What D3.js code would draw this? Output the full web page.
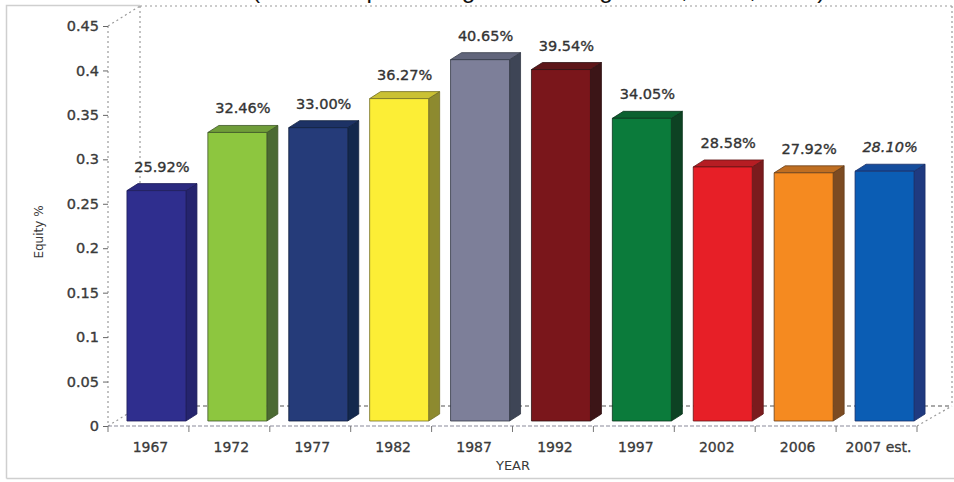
<!DOCTYPE html>
<html>
<head>
<meta charset="utf-8">
<script src="https://cdn.jsdelivr.net/npm/d3@7"></script>
<style>
  html, body { margin: 0; padding: 0; background: #fff; overflow: hidden; }
  svg { display: block; }
</style>
</head>
<body>
<svg id="chart" width="954" height="482"></svg>
<script>
// ---- data ----
const years = ["1967", "1972", "1977", "1982", "1987", "1992", "1997", "2002", "2006", "2007 est."];
const equityShare = [0.2592, 0.3246, 0.3300, 0.3627, 0.4065, 0.3954, 0.3405, 0.2858, 0.2792, 0.2810];
const estimated = [false, false, false, false, false, false, false, false, false, true];
const yTicks = [0, 0.05, 0.1, 0.15, 0.2, 0.25, 0.3, 0.35, 0.4, 0.45];
const yTickLabels = ["0", "0.05", "0.1", "0.15", "0.2", "0.25", "0.3", "0.35", "0.4", "0.45"];
const titleText = "(held as a percentage of Housing Stock, 1967, 2007)";

// ---- palette (front face, side face) ----
const frontColors = ["#2f2e8e", "#8dc63f", "#253b79", "#fcee36", "#7d7f99", "#7a161b", "#0b7b3b", "#e71f27", "#f58a20", "#0b5db4"];
const sideColors  = ["#25246e", "#4b6a32", "#13284d", "#8d8a2f", "#3e4556", "#3c1517", "#0d4223", "#7b1b1d", "#7c4b22", "#1f3a80"];

const svg = d3.select("#chart");
const fmtPct = d3.format(".2%");
const labelFont = "DejaVu Sans, Verdana, sans-serif";

// plot geometry
const floorY = 426, topY = 26, left = 108, right = 917;
const depthX = 32, depthY = -20;          // depth of the back wall
const barShiftX = 8, barShiftY = -5;      // bars sit slightly inside the floor
const barDepthX = 11, barDepthY = -7;     // thickness of each bar

const y = d3.scaleLinear().domain([0, 0.45]).range([floorY, topY]);
const x = d3.scaleBand().domain(years).range([left, right]);
const barW = 59;

// outer frame
const frame = svg.append("g").attr("stroke", "#cfcfcf").attr("stroke-width", 1.5).attr("fill", "none");
frame.append("path").attr("d", `M6.5,478.5 L6.5,5.5 L${left + depthX},5.5`);
frame.append("path").attr("d", `M6.5,478.5 L954,478.5`);

// title, running off the top edge so only its descenders show
svg.append("text")
  .attr("x", 252).attr("y", -2)
  .attr("font-family", "Liberation Sans, Arial, sans-serif")
  .attr("font-size", 24.5)
  .attr("fill", "#111")
  .text(titleText);

// back wall and floor wireframe
const wire = svg.append("g").attr("fill", "none").attr("stroke", "#9a9a9a").attr("stroke-width", 1.2).attr("stroke-dasharray", "2,3");
const bx0 = left + depthX, bx1 = right + depthX, byFloor = floorY + depthY;
wire.append("line").attr("x1", bx0).attr("y1", 6).attr("x2", 954).attr("y2", 6);
wire.append("line").attr("x1", bx0).attr("y1", 6).attr("x2", bx0).attr("y2", byFloor);
wire.append("line").attr("x1", bx1 + 3).attr("y1", 6).attr("x2", bx1 + 3).attr("y2", byFloor);
wire.append("line").attr("x1", left).attr("y1", topY).attr("x2", bx0).attr("y2", 6);
wire.append("line").attr("x1", left).attr("y1", floorY).attr("x2", bx0).attr("y2", byFloor);
wire.append("line").attr("x1", right).attr("y1", floorY).attr("x2", bx1 + 3).attr("y2", byFloor);
wire.append("line").attr("x1", left).attr("y1", topY).attr("x2", left).attr("y2", floorY);
// back floor line
svg.append("line").attr("x1", bx0).attr("y1", byFloor).attr("x2", bx1).attr("y2", byFloor)
  .attr("stroke", "#555").attr("stroke-width", 1.2).attr("stroke-dasharray", "4,3");
// front floor line
svg.append("line").attr("x1", left).attr("y1", floorY).attr("x2", right).attr("y2", floorY)
  .attr("stroke", "#8a8a9a").attr("stroke-width", 1.2).attr("stroke-dasharray", "4,2");

// bars
const bars = svg.append("g");
years.forEach((yr, i) => {
  const v = equityShare[i];
  const x0 = x(yr) + (x.bandwidth() - barW) / 2 + barShiftX;
  const x1 = x0 + barW;
  const yb = y(0) + barShiftY;
  const yt = y(v) + barShiftY;
  const g = bars.append("g").attr("stroke", d3.color(sideColors[i]).darker(0.6)).attr("stroke-width", 0.8).attr("stroke-linejoin", "round");
  // side face
  g.append("path")
    .attr("d", `M${x1},${yt} L${x1 + barDepthX},${yt + barDepthY} L${x1 + barDepthX},${yb + barDepthY} L${x1},${yb} Z`)
    .attr("fill", sideColors[i]);
  // top face
  g.append("path")
    .attr("d", `M${x0},${yt} L${x0 + barDepthX},${yt + barDepthY} L${x1 + barDepthX},${yt + barDepthY} L${x1},${yt} Z`)
    .attr("fill", d3.interpolateRgb(frontColors[i], sideColors[i])(0.45));
  // front face
  g.append("rect")
    .attr("x", x0).attr("y", yt).attr("width", barW).attr("height", yb - yt)
    .attr("fill", frontColors[i]);
  // value label
  svg.append("text")
    .attr("x", x0 + (barW + barDepthX) / 2)
    .attr("y", yt + barDepthY - 12)
    .attr("text-anchor", "middle")
    .attr("font-family", labelFont)
    .attr("font-size", 14.5)
    .attr("font-style", estimated[i] ? "italic" : "normal")
    .attr("fill", "#333")
    .attr("stroke", "#333").attr("stroke-width", 0.35)
    .text(fmtPct(v));
});

// y axis ticks and labels
const yAxis = d3.axisLeft(y).tickValues(yTicks).tickFormat((d, i) => yTickLabels[i]).tickSize(5).tickPadding(4);
const gy = svg.append("g").attr("transform", `translate(${left},0)`).call(yAxis);
gy.select(".domain").remove();
gy.selectAll(".tick line").attr("stroke", "#666");
gy.selectAll(".tick text").attr("font-family", labelFont).attr("font-size", 14.5)
  .attr("fill", "#3a3a3a").attr("stroke", "#3a3a3a").attr("stroke-width", 0.35);

// x axis labels
const xAxis = d3.axisBottom(x).tickSize(0).tickPadding(16);
const gx = svg.append("g").attr("transform", `translate(2,${floorY})`).call(xAxis);
gx.select(".domain").remove();
gx.selectAll(".tick text").attr("font-family", labelFont).attr("font-size", 14)
  .attr("fill", "#3a3a3a").attr("stroke", "#3a3a3a").attr("stroke-width", 0.3);

// category boundary ticks
const bounds = years.map(d => x(d)).concat([right]);
svg.append("g").selectAll("line").data(bounds).join("line")
  .attr("x1", d => d).attr("x2", d => d)
  .attr("y1", floorY).attr("y2", floorY + 6)
  .attr("stroke", "#777").attr("stroke-width", 1);

// axis titles
svg.append("text")
  .attr("transform", "translate(43,232) rotate(-90)")
  .attr("text-anchor", "middle")
  .attr("font-family", labelFont)
  .attr("font-size", 12)
  .attr("fill", "#3a3a3a")
  .text("Equity %");
svg.append("text")
  .attr("x", 513).attr("y", 470)
  .attr("text-anchor", "middle")
  .attr("font-family", labelFont)
  .attr("font-size", 13)
  .attr("fill", "#3a3a3a")
  .text("YEAR");
</script>
</body>
</html>
